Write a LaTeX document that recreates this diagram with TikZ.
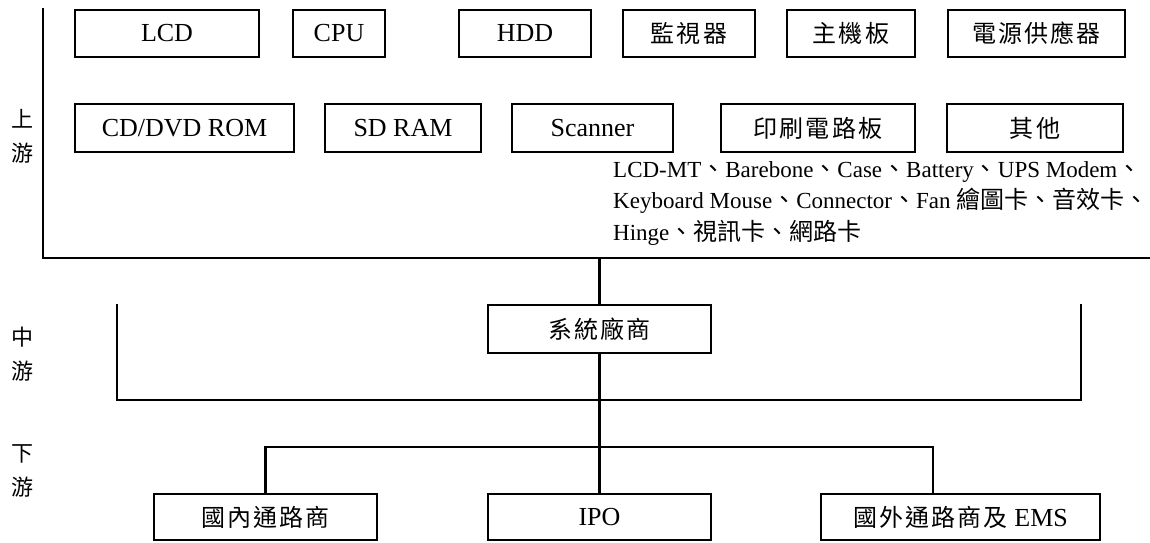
\documentclass[tikz,border=0pt]{standalone}
\usepackage{fontspec}
\usepackage{tikz}
\setmainfont{Liberation Serif}
\newfontfamily\cjk[LetterSpace=9]{Noto Sans CJK TC}
\newfontfamily\cjkplain{Noto Sans CJK TC}
\newcommand{\zhbox}[1]{{\cjk\fontsize{24}{28}\selectfont #1}}
\newcommand{\zhtxt}[1]{{\cjkplain\fontsize{24}{28}\selectfont #1}}

\tikzset{
  part/.style={draw, line width=2.3pt, minimum height=47pt, inner sep=0pt, font=\fontsize{26}{30}\selectfont},
  stage/.style={align=center, font=\cjkplain\fontsize{22}{34}\selectfont},
  others/.style={anchor=base west, inner sep=0pt, font=\fontsize{23}{28}\selectfont},
  link/.style={line width=2.3pt},
}

\begin{document}
\begin{tikzpicture}[x=1pt, y=-1pt]
    \useasboundingbox (0, 0) rectangle (1150, 542);
    % upstream
    \node[part, minimum width=184pt] at (167, 33.5) (lcd) {LCD};
    \node[part, minimum width=92pt] at (339, 33.5) (cpu) {CPU};
    \node[part, minimum width=132pt] at (525, 33.5) (hdd) {HDD};
    \node[part, minimum width=132pt] at (689, 33.5) (monitor) {\zhbox{監視器}};
    \node[part, minimum width=128pt] at (851, 33.5) (board) {\zhbox{主機板}};
    \node[part, minimum width=177pt] at (1036.5, 33.5) (power) {\zhbox{電源供應器}};
    \node[part, minimum width=219pt, minimum height=48pt] at (184.5, 128) (cdrom) {CD/DVD ROM};
    \node[part, minimum width=156pt, minimum height=48pt] at (403, 128) (sdram) {SD RAM};
    \node[part, minimum width=161pt, minimum height=48pt] at (592.5, 128) (scanner) {Scanner};
    \node[part, minimum width=194pt, minimum height=48pt] at (818, 128) (pcb) {\zhbox{印刷電路板}};
    \node[part, minimum width=176pt, minimum height=48pt] at (1035, 128) (misc) {\zhbox{其他}};
    \node[others] at (613, 177) (misc1) {LCD-MT\zhtxt{、}Barebone\zhtxt{、}Case\zhtxt{、}Battery\zhtxt{、}UPS Modem\zhtxt{、}};
    \node[others] at (613, 208) (misc2) {Keyboard Mouse\zhtxt{、}Connector\zhtxt{、}Fan \zhtxt{繪圖卡、音效卡、}};
    \node[others] at (613, 240) (misc3) {Hinge\zhtxt{、視訊卡、網路卡}};

    % stages
    \node[stage] at (22, 136) (up) {上\\游};
    \node[stage] at (22, 354) (mid) {中\\游};
    \node[stage] at (22, 471) (down) {下\\游};

    % midstream and downstream
    \node[part, minimum width=223pt, minimum height=48pt] at (599.5, 329) (sys) {\zhbox{系統廠商}};
    \node[part, minimum width=223pt, minimum height=46pt] at (265.5, 517) (local) {\zhbox{國內通路商}};
    \node[part, minimum width=223pt, minimum height=46pt] at (599.5, 517) (ipo) {IPO};
    \node[part, minimum width=279pt, minimum height=46pt] at (960.5, 517) (abroad) {\zhbox{國外通路商及} EMS};

    \coordinate (uptop) at (43, 8);
    \coordinate (upend) at (1150, 258);
    \coordinate (midleft) at (117, 304);
    \coordinate (midright) at (1081, 304);
    \coordinate (midbase) at (599.5, 400);
    \coordinate (split) at (599.5, 447);
    \coordinate (abroadtop) at (933, 494);
    \draw[link] (uptop) |- (upend);
    \draw[link] (sys.north) -- (sys.north |- upend);
    \draw[link] (midleft) |- (midbase) -| (midright);
    \draw[link] (sys.south) -- (ipo.north);
    \draw[link] (local.north) |- (split) -| (abroadtop);
\end{tikzpicture}
\end{document}
